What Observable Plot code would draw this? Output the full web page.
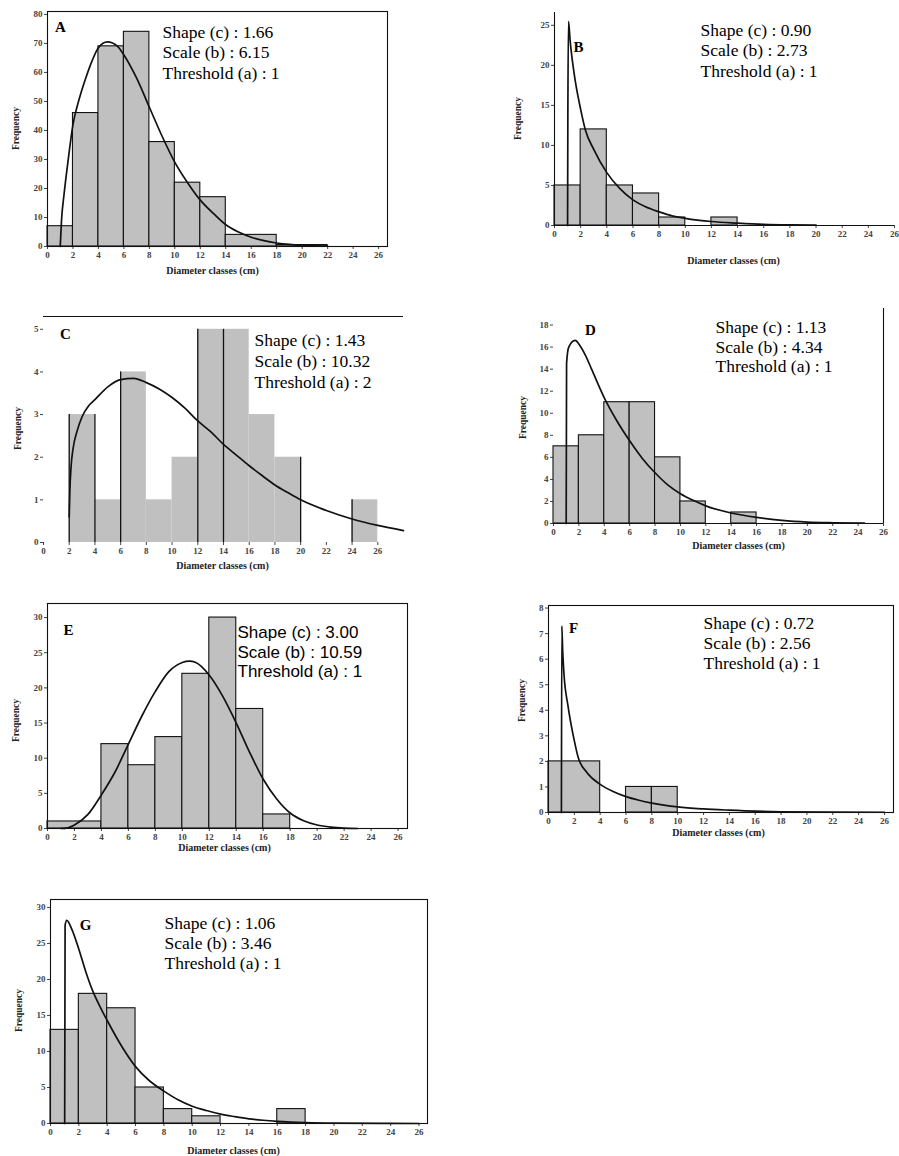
<!DOCTYPE html>
<html><head><meta charset="utf-8">
<script src="https://cdn.jsdelivr.net/npm/d3@7"></script>
<script src="https://cdn.jsdelivr.net/npm/@observablehq/plot@0.6"></script>
<style>
html,body{margin:0;padding:0;background:#fff;}
#root{position:relative;width:899px;height:1156px;overflow:hidden;background:#fff;}
#root svg{position:absolute;overflow:visible;}
</style></head><body><div id="root"></div>
<script>
// ---------- shared tick labels ----------
const xTicks = [0,2,4,6,8,10,12,14,16,18,20,22,24,26];
const axisTitleX = "Diameter classes (cm)";
const axisTitleY = "Frequency";

// ---------- Panel A ----------
const A_binStart = [0,2,4,6,8,10,12,14,18];
const A_binEnd   = [2,4,6,8,10,12,14,18,22];
const A_freq     = [7,46,69,74,36,22,17,4,0.5];
const A_curveX = [1,1.1,1.3,1.6,2,2.5,3,3.5,4,4.7,5.5,6,7,8,9,10,11,12,13,14,15,16,17,18,19,20,21,22];
const A_curveY = [0,9,18,29,42,51,58,64,68.5,70.5,69,66,58,48,38,29,22,16,11.5,7.5,5,3.2,2,1.2,0.7,0.4,0.2,0.1];
const A_yTicks = [0,10,20,30,40,50,60,70,80];
const A_params = ["Shape (c) : 1.66","Scale (b) : 6.15","Threshold (a) : 1"];

// ---------- Panel B ----------
const B_binStart = [0,2,4,6,8,12];
const B_binEnd   = [2,4,6,8,10,14];
const B_freq     = [5,12,5,4,1,1];
const B_curveX = [1,1.02,1.07,1.2,1.5,2,2.35,3,4,5,6,7,8,9,10,12,14,16,18,20];
const B_curveY = [0,13,25.5,23,19,14.5,12,9.5,6.6,4.6,3.2,2.3,1.7,1.2,0.9,0.5,0.3,0.15,0.08,0.05];
const B_yTicks = [0,5,10,15,20,25];
const B_params = ["Shape (c) : 0.90","Scale (b) : 2.73","Threshold (a) : 1"];

// ---------- Panel C ----------
const C_binStart = [2,4,6,8,10,12,14,16,18,24];
const C_binEnd   = [4,6,8,10,12,14,16,18,20,26];
const C_freq     = [3,1,4,1,2,5,5,3,2,1];
const C_edgeX    = [2,4,6,12,14,20,24];
const C_edgeTop  = [3,3,4,5,5,2,1];
const C_curveX = [2,2.05,2.15,2.3,2.6,3,3.5,4,5,6,7,8,9,10,11,12,13,14,15,16,17,18,19,20,22,24,26,28];
const C_curveY = [0.6,1.2,1.8,2.2,2.6,2.95,3.2,3.35,3.65,3.82,3.85,3.75,3.6,3.4,3.15,2.85,2.6,2.3,2.05,1.8,1.57,1.35,1.17,1.0,0.75,0.55,0.4,0.28];
const C_yTicks = [0,1,2,3,4,5];
const C_params = ["Shape (c) : 1.43","Scale (b) : 10.32","Threshold (a) : 2"];

// ---------- Panel D ----------
const D_binStart = [0,2,4,6,8,10,14];
const D_binEnd   = [2,4,6,8,10,12,16];
const D_freq     = [7,8,11,11,6,2,1];
const D_curveX = [1,1.03,1.2,1.7,2.1,2.5,3,4,5,6,7,8,9,10,11,12,14,16,18,20,22,24.5];
const D_curveY = [0,14.5,16,16.6,16.1,15.3,14,11.4,9.3,7.5,5.9,4.6,3.5,2.7,2.1,1.6,0.95,0.55,0.28,0.13,0.07,0.04];
const D_yTicks = [0,2,4,6,8,10,12,14,16,18];
const D_params = ["Shape (c) : 1.13","Scale (b) : 4.34","Threshold (a) : 1"];

// ---------- Panel E ----------
const E_binStart = [0,4,6,8,10,12,14,16];
const E_binEnd   = [4,6,8,10,12,14,16,18];
const E_freq     = [1,12,9,13,22,30,17,2];
const E_curveX = [1,1.5,2,3,4,5,6,7,8,9,10,10.5,11,12,13,14,15,16,17,18,19,20,21,22,23];
const E_curveY = [0,0.1,0.5,2,4.8,8,12,16,19.5,22.3,23.6,23.8,23.6,21.8,18.8,15,10.8,7,4.2,2.2,1.1,0.5,0.2,0.05,0];
const E_yTicks = [0,5,10,15,20,25,30];
const E_params = ["Shape (c) : 3.00","Scale (b) : 10.59","Threshold (a) : 1"];

// ---------- Panel F ----------
const F_binStart = [0,6,8];
const F_binEnd   = [4,8,10];
const F_freq     = [2,1,1];
const F_curveX = [1,1.03,1.1,1.2,1.5,2,2.3,3,4,5,6,7,8,10,12,14,16,18,26];
const F_curveY = [0,7.3,6.3,5.4,4.2,2.8,2.15,1.55,1.1,0.82,0.62,0.48,0.37,0.22,0.14,0.09,0.05,0.03,0.01];
const F_yTicks = [0,1,2,3,4,5,6,7,8];
const F_params = ["Shape (c) : 0.72","Scale (b) : 2.56","Threshold (a) : 1"];

// ---------- Panel G ----------
const G_binStart = [0,2,4,6,8,10,16];
const G_binEnd   = [2,4,6,8,10,12,18];
const G_freq     = [13,18,16,5,2,1,2];
const G_curveX = [1,1.03,1.15,1.5,2,2.5,3,3.5,4,5,6,7,8,9,10,11,12,13,14,15,16,18,20,26];
const G_curveY = [0,27.5,28.2,27,24.2,21,18.3,16.2,14.3,10.8,7.9,5.9,4.5,3.3,2.4,1.8,1.3,0.95,0.65,0.45,0.3,0.12,0.05,0];
const G_yTicks = [0,5,10,15,20,25,30];
const G_params = ["Shape (c) : 1.06","Scale (b) : 3.46","Threshold (a) : 1"];

// ---------- layout (page pixels) ----------
const panels = [
  {letter:"A", binStart:A_binStart, binEnd:A_binEnd, freq:A_freq, curveX:A_curveX, curveY:A_curveY, yTicks:A_yTicks, params:A_params,
   xmax:26.7, ymax:81, left:47, top:11, right:387, bottom:246, border:"box", outline:true,
   letterPos:[60,27], paramX:162, paramY:[32,52,73], freqPos:[15,128], diamPos:[212,270]},
  {letter:"B", binStart:B_binStart, binEnd:B_binEnd, freq:B_freq, curveX:B_curveX, curveY:B_curveY, yTicks:B_yTicks, params:B_params,
   xmax:26, ymax:26.6, left:554, top:12, right:894, bottom:225, border:"L", outline:true,
   letterPos:[578,47], paramX:700, paramY:[30,50,71], freqPos:[517,118], diamPos:[733,260]},
  {letter:"C", binStart:C_binStart, binEnd:C_binEnd, freq:C_freq, curveX:C_curveX, curveY:C_curveY, yTicks:C_yTicks, params:C_params,
   xmax:28, ymax:5.3, left:43, top:316, right:403, bottom:542, border:"top", outline:false,
   edges:C_edgeX.map((x,i)=>({x, h:C_edgeTop[i]})),
   letterPos:[65,334], paramX:254, paramY:[340,361,382], freqPos:[17,428], diamPos:[222,565]},
  {letter:"D", binStart:D_binStart, binEnd:D_binEnd, freq:D_freq, curveX:D_curveX, curveY:D_curveY, yTicks:D_yTicks, params:D_params,
   xmax:26, ymax:19.5, left:553, top:308, right:883, bottom:523, border:"right", outline:true,
   letterPos:[590,330], paramX:715, paramY:[327,347,366], freqPos:[522,417], diamPos:[738,545]},
  {letter:"E", binStart:E_binStart, binEnd:E_binEnd, freq:E_freq, curveX:E_curveX, curveY:E_curveY, yTicks:E_yTicks, params:E_params,
   xmax:26.7, ymax:32, left:47, top:603, right:407, bottom:828, border:"box", outline:true, sans:true,
   letterPos:[68,630], paramX:237, paramY:[632,652,671], freqPos:[15,720], diamPos:[224,847]},
  {letter:"F", binStart:F_binStart, binEnd:F_binEnd, freq:F_freq, curveX:F_curveX, curveY:F_curveY, yTicks:F_yTicks, params:F_params,
   xmax:26.7, ymax:8.1, left:548, top:605, right:893, bottom:812, border:"box", outline:true,
   letterPos:[573,628], paramX:703, paramY:[623,643,663], freqPos:[521,700], diamPos:[718,832]},
  {letter:"G", binStart:G_binStart, binEnd:G_binEnd, freq:G_freq, curveX:G_curveX, curveY:G_curveY, yTicks:G_yTicks, params:G_params,
   xmax:26.6, ymax:31.1, left:50, top:899, right:427, bottom:1123, border:"box", outline:true,
   letterPos:[85,925], paramX:164, paramY:[923,943,963], freqPos:[18,1010], diamPos:[233,1150]}
];

const root = document.getElementById("root");
const INK = "#111";

for (const p of panels) {
  const ML = 42, MR = 5, MT = 14, MB = 34;
  const W = p.right - p.left + ML + MR;
  const H = p.bottom - p.top + MT + MB;
  const bins = p.binStart.map((x1, i) => ({x1, x2: p.binEnd[i], f: p.freq[i]}));
  const curve = p.curveX.map((x, i) => ({x, y: p.curveY[i]}));
  const rel = (pos) => ({dx: pos[0] - p.left, dy: pos[1] - p.top});

  const marks = [
    Plot.rectY(bins, {x1: "x1", x2: "x2", y: "f", fill: "#c0c0c0",
      stroke: p.outline ? INK : "none", strokeWidth: 1.1})
  ];
  if (p.edges) marks.push(Plot.ruleX(p.edges, {x: "x", y1: 0, y2: "h", stroke: INK, strokeWidth: 1.3}));
  marks.push(Plot.line(curve, {x: "x", y: "y", curve: "monotone-x", stroke: INK, strokeWidth: 1.7}));

  if (p.border === "box") marks.push(Plot.frame({stroke: INK, strokeWidth: 1.1}));
  if (p.border === "L") { marks.push(Plot.ruleX([0], {stroke: INK, strokeWidth: 1.1})); marks.push(Plot.ruleY([0], {stroke: INK, strokeWidth: 1.1})); }
  if (p.border === "top") marks.push(Plot.ruleY([p.ymax], {stroke: INK, strokeWidth: 1.2}));
  if (p.border === "right") { marks.push(Plot.ruleX([p.xmax], {stroke: INK, strokeWidth: 1.1})); marks.push(Plot.ruleY([0], {stroke: INK, strokeWidth: 1.1})); }

  marks.push(Plot.text([p.letter], {frameAnchor: "top-left", ...rel(p.letterPos),
    fontFamily: "Liberation Serif", fontWeight: "bold", fontSize: 15, fill: "#000",
    textAnchor: "middle", lineAnchor: "middle"}));
  p.params.forEach((s, i) => {
    marks.push(Plot.text([s], {frameAnchor: "top-left", dx: p.paramX - p.left, dy: p.paramY[i] - p.top,
      fontFamily: p.sans ? "Liberation Sans" : "Liberation Serif", fontWeight: "normal",
      fontSize: p.sans ? 17 : 17.5, fill: "#000",
      textAnchor: "start", lineAnchor: "middle"}));
  });
  marks.push(Plot.text([axisTitleY], {frameAnchor: "top-left", ...rel(p.freqPos), rotate: -90,
    fontFamily: "Liberation Serif", fontWeight: "bold", fontSize: 9.5, fill: "#222",
    textAnchor: "middle", lineAnchor: "middle"}));
  marks.push(Plot.text([axisTitleX], {frameAnchor: "top-left", ...rel(p.diamPos),
    fontFamily: "Liberation Serif", fontWeight: "bold", fontSize: 10, fill: "#222",
    textAnchor: "middle", lineAnchor: "middle"}));

  const svg = Plot.plot({
    width: W, height: H,
    marginLeft: ML, marginRight: MR, marginTop: MT, marginBottom: MB,
    style: {fontFamily: "Liberation Serif", fontSize: "9px", fontWeight: "bold", color: "#444", background: "transparent", overflow: "visible"},
    x: {domain: [0, p.xmax], ticks: xTicks, tickFormat: d => String(d), label: null, tickSize: 3, tickPadding: 2},
    y: {domain: [0, p.ymax], ticks: p.yTicks, tickFormat: d => String(d), label: null, tickSize: 3, tickPadding: 2},
    marks
  });
  svg.style.left = (p.left - ML) + "px";
  svg.style.top = (p.top - MT) + "px";
  root.appendChild(svg);
}
</script></body></html>
